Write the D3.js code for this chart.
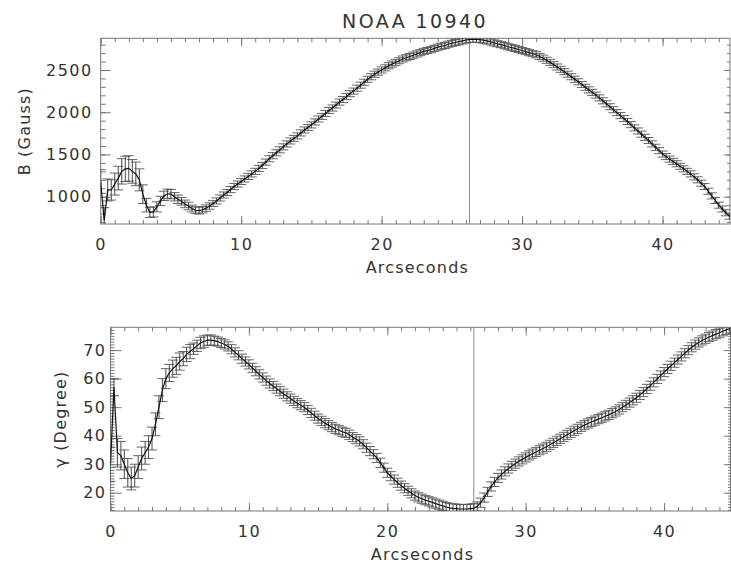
<!DOCTYPE html>
<html>
<head>
<meta charset="utf-8">
<script src="https://cdn.jsdelivr.net/npm/d3@7"></script>
<style>
  html, body { margin: 0; padding: 0; background: #fff; }
  svg { display: block; }
  text { font-family: "DejaVu Sans", sans-serif; fill: #333; }
</style>
</head>
<body>
<svg id="chart" width="731" height="567"></svg>
<script>
// ---------------- DATA ----------------
const title = "NOAA 10940";
const xLabel = "Arcseconds";
const bLabel = "B (Gauss)";
const gLabel = "\u03b3 (Degree)";
const sampleStep = 0.25;           // arcsec between samples
const markerX = 26.25;             // position of vertical marker (arcsec)
const xTicks = [0, 10, 20, 30, 40];
const bTicks = [1000, 1500, 2000, 2500];
const gTicks = [20, 30, 40, 50, 60, 70];

// Field strength B (Gauss), one value per 0.25 arcsec (20 per row = 5 arcsec)
const bValues = [
  1180, 720,1080,1080,1150,1220,1300,1330,1335,1300,1270,1200,1030, 900, 815, 820, 880, 950,1010,1035,
  1030,1000, 970, 945, 915, 890, 860, 840, 835, 845, 865, 890, 920, 950, 985,1020,1050,1085,1120,1150,
  1180,1210,1240,1270,1300,1335,1370,1410,1450,1485,1520,1555,1590,1625,1660,1690,1720,1755,1790,1820,
  1850,1885,1920,1950,1985,2020,2050,2085,2120,2150,2185,2220,2250,2285,2320,2355,2390,2420,2450,2475,
  2500,2525,2550,2570,2590,2610,2630,2645,2660,2675,2690,2705,2720,2730,2740,2755,2770,2780,2790,2805,
  2815,2825,2835,2845,2855,2862,2865,2863,2860,2853,2845,2833,2820,2810,2800,2788,2775,2765,2755,2743,
  2730,2718,2705,2693,2680,2660,2640,2615,2590,2563,2535,2508,2480,2450,2420,2390,2360,2328,2295,2265,
  2235,2203,2170,2135,2100,2065,2030,1995,1960,1925,1890,1853,1815,1778,1740,1703,1665,1625,1585,1545,
  1505,1475,1445,1418,1390,1360,1330,1300,1270,1235,1200,1160,1120,1065,1010, 955, 900, 855, 810, 770
];
const bErrors = [
  140,150,130,120,130,140,150,150,150,140,140,130,110, 80, 60, 60, 60, 55, 55, 55,
   55, 50, 50, 45, 45, 45, 40, 40, 40, 38, 38, 38, 36, 36, 36, 36, 36, 36, 36, 36,
   36, 36, 36, 36, 36, 36, 36, 36, 36, 36, 36, 36, 36, 36, 36, 36, 36, 36, 36, 36,
   36, 36, 36, 36, 36, 36, 36, 36, 36, 36, 36, 36, 36, 36, 36, 36, 36, 36, 36, 36,
   36, 36, 36, 36, 36, 36, 36, 36, 36, 36, 36, 36, 36, 36, 36, 36, 36, 36, 36, 36,
   36, 36, 36, 36, 36, 36, 36, 36, 36, 36, 36, 36, 36, 36, 36, 36, 36, 36, 36, 36,
   36, 36, 36, 36, 36, 36, 36, 36, 36, 36, 36, 36, 36, 36, 36, 36, 36, 36, 36, 36,
   36, 36, 36, 36, 36, 36, 36, 36, 36, 36, 36, 36, 36, 36, 36, 36, 36, 36, 36, 36,
   36, 36, 36, 36, 36, 36, 36, 36, 36, 36, 36, 36, 36, 36, 36, 36, 36, 36, 36, 36
];

// Inclination gamma (degree), one value per 0.25 arcsec
const gValues = [
  30, 57, 34, 33, 30, 27, 25, 26, 29, 32, 34, 36, 39, 44, 50, 56, 60, 62, 63.5, 64.5,
  66, 67, 68.5, 69.5, 70.5, 71.5, 72.5, 73, 73.5, 73.5, 73.3, 73, 72.5, 72, 71.3, 70.3, 69.2, 68.2, 67, 66,
  65, 63.8, 62.6, 61.5, 60.4, 59.3, 58.3, 57.4, 56.5, 55.6, 54.7, 53.8, 53, 52.2, 51.4, 50.7, 50, 49, 48, 47,
  46, 45.2, 44.4, 43.7, 43, 42.4, 41.9, 41.4, 41, 40.3, 39.5, 38.8, 38, 37, 35.8, 34.6, 33.5, 32.2, 30.5, 28.8,
  27, 25.8, 24.6, 23.5, 22.5, 21.6, 20.7, 19.8, 19, 18.4, 17.9, 17.4, 17, 16.6, 16.2, 15.8, 15.4, 15, 14.7, 14.5,
  14.4, 14.3, 14.3, 14.3, 14.4, 14.6, 15.2, 16.5, 18.3, 20.3, 22.2, 23.8, 25.2, 26.4, 27.5, 28.5, 29.4, 30.2, 31, 31.7,
  32.4, 33.1, 33.7, 34.3, 34.9, 35.5, 36.1, 36.8, 37.5, 38.2, 38.9, 39.6, 40.3, 41, 41.7, 42.4, 43.1, 43.7, 44.3, 44.8,
  45.3, 45.8, 46.3, 46.8, 47.3, 47.9, 48.5, 49.2, 50, 50.8, 51.6, 52.4, 53.3, 54.3, 55.3, 56.4, 57.5, 58.7, 59.9, 61.1,
  62.3, 63.4, 64.5, 65.6, 66.7, 67.8, 68.9, 70, 71, 71.9, 72.7, 73.4, 74, 74.6, 75.1, 75.6, 76.1, 76.6, 77.1, 77.6
];
const gErrors = [
  6, 3, 5, 5, 5, 5, 4, 4, 4, 4, 4, 4, 4, 4, 4, 4, 3.5, 3, 3, 3,
  3, 2.5, 2.5, 2.5, 2, 2, 2, 2, 1.8, 1.8, 1.6, 1.6, 1.6, 1.6, 1.6, 1.6, 1.6, 1.6, 1.6, 1.6,
  1.6, 1.6, 1.6, 1.6, 1.6, 1.6, 1.6, 1.6, 1.6, 1.6, 1.6, 1.6, 1.6, 1.6, 1.6, 1.6, 1.6, 1.6, 1.6, 1.6,
  1.6, 1.6, 1.6, 1.6, 1.6, 1.6, 1.6, 1.6, 1.6, 1.6, 1.6, 1.6, 1.6, 1.6, 1.6, 1.6, 1.6, 1.6, 1.6, 1.6,
  1.6, 1.6, 1.6, 1.6, 1.6, 1.6, 1.6, 1.6, 1.6, 1.6, 1.6, 1.6, 1.6, 1.6, 1.6, 1.6, 1.6, 1.6, 1.6, 1.6,
  1.6, 1.6, 1.6, 1.6, 1.6, 1.6, 1.6, 1.6, 1.6, 1.6, 1.6, 1.6, 1.6, 1.6, 1.6, 1.6, 1.6, 1.6, 1.6, 1.6,
  1.6, 1.6, 1.6, 1.6, 1.6, 1.6, 1.6, 1.6, 1.6, 1.6, 1.6, 1.6, 1.6, 1.6, 1.6, 1.6, 1.6, 1.6, 1.6, 1.6,
  1.6, 1.6, 1.6, 1.6, 1.6, 1.6, 1.6, 1.6, 1.6, 1.6, 1.6, 1.6, 1.6, 1.6, 1.6, 1.6, 1.6, 1.6, 1.6, 1.6,
  1.6, 1.6, 1.6, 1.6, 1.6, 1.6, 1.6, 1.6, 1.6, 1.6, 1.6, 1.6, 1.6, 1.6, 1.6, 1.6, 1.6, 1.6, 1.6, 1.6
];

// ---------------- DRAW ----------------
const svg = d3.select("#chart");
const axisColor = "#777";

function panel(cfg) {
  const { left, right, top, bottom, yDomain, values, errors, yTicks, yMinorStep,
          yMajorLen, yMinorLen, ylabel, ylabelX, id } = cfg;
  const x = d3.scaleLinear().domain([0, 44.8]).range([left, right]);
  const y = d3.scaleLinear().domain(yDomain).range([bottom, top]);
  const data = values.map((v, i) => ({ x: i * sampleStep, y: v, e: errors[i] }));

  const g = svg.append("g");
  svg.append("clipPath").attr("id", id)
    .append("rect").attr("x", left).attr("y", top)
    .attr("width", right - left).attr("height", bottom - top);

  const xMinor = d3.range(0, 45, 1);
  const yMinor = d3.range(Math.ceil(yDomain[0] / yMinorStep) * yMinorStep, yDomain[1], yMinorStep);

  const styleAxis = sel => {
    sel.select(".domain").remove();
    sel.selectAll(".tick line").attr("stroke", axisColor);
    sel.selectAll("text").style("font-family", "DejaVu Sans, sans-serif")
      .style("font-size", "16px").style("letter-spacing", "1.5px").attr("fill", "#333");
  };

  g.append("g").attr("transform", `translate(0,${bottom})`)
    .call(d3.axisBottom(x).tickValues(xMinor).tickSize(-4).tickFormat("")).call(styleAxis);
  g.append("g").attr("transform", `translate(0,${bottom})`)
    .call(d3.axisBottom(x).tickValues(xTicks).tickSize(-8).tickFormat(d3.format("d")))
    .call(styleAxis)
    .call(s => s.selectAll("text").attr("dy", "0.71em").attr("y", 15));
  g.append("g").attr("transform", `translate(0,${top})`)
    .call(d3.axisTop(x).tickValues(xMinor).tickSize(-4).tickFormat("")).call(styleAxis);
  g.append("g").attr("transform", `translate(0,${top})`)
    .call(d3.axisTop(x).tickValues(xTicks).tickSize(-8).tickFormat("")).call(styleAxis);

  g.append("g").attr("transform", `translate(${left},0)`)
    .call(d3.axisLeft(y).tickValues(yMinor).tickSize(-yMinorLen).tickFormat("")).call(styleAxis);
  g.append("g").attr("transform", `translate(${left},0)`)
    .call(d3.axisLeft(y).tickValues(yTicks).tickSize(-yMajorLen).tickPadding(cfg.yPad).tickFormat(d3.format("d")))
    .call(styleAxis);
  g.append("g").attr("transform", `translate(${right},0)`)
    .call(d3.axisRight(y).tickValues(yMinor).tickSize(-yMinorLen * 0.6).tickFormat("")).call(styleAxis);
  g.append("g").attr("transform", `translate(${right},0)`)
    .call(d3.axisRight(y).tickValues(yTicks).tickSize(-yMajorLen * 0.6).tickFormat("")).call(styleAxis);

  g.append("rect").attr("x", left).attr("y", top)
    .attr("width", right - left).attr("height", bottom - top)
    .attr("fill", "none").attr("stroke", axisColor).attr("stroke-width", 1);

  g.append("line").attr("x1", x(markerX)).attr("x2", x(markerX))
    .attr("y1", top).attr("y2", bottom).attr("stroke", "#888").attr("stroke-width", 1);

  const plot = g.append("g").attr("clip-path", `url(#${id})`);

  const cap = 5;
  const eb = plot.append("g").selectAll("g").data(data).join("g");
  eb.append("line").attr("x1", d => x(d.x)).attr("x2", d => x(d.x))
    .attr("y1", d => y(d.y - d.e)).attr("y2", d => y(d.y + d.e))
    .attr("stroke", "#333").attr("stroke-width", 0.9);
  eb.append("line").attr("x1", d => x(d.x) - cap).attr("x2", d => x(d.x) + cap)
    .attr("y1", d => y(d.y + d.e)).attr("y2", d => y(d.y + d.e))
    .attr("stroke", "#555").attr("stroke-width", 0.9);
  eb.append("line").attr("x1", d => x(d.x) - cap).attr("x2", d => x(d.x) + cap)
    .attr("y1", d => y(d.y - d.e)).attr("y2", d => y(d.y - d.e))
    .attr("stroke", "#555").attr("stroke-width", 0.9);

  plot.append("path").datum(data)
    .attr("d", d3.line().x(d => x(d.x)).y(d => y(d.y)))
    .attr("fill", "none").attr("stroke", "#111").attr("stroke-width", 1.2);

  svg.append("text").attr("x", (left + right) / 2 + 2).attr("y", bottom + 49)
    .attr("text-anchor", "middle").style("font-size", "16px").style("letter-spacing", "1.2px")
    .text(xLabel);
  svg.append("text")
    .attr("transform", `translate(${ylabelX},${(top + bottom) / 2}) rotate(-90)`)
    .attr("text-anchor", "middle").style("font-size", "16px").style("letter-spacing", "1.2px")
    .text(ylabel);
}

panel({ id: "clipTop", left: 100.7, right: 730, top: 38.3, bottom: 224,
  yDomain: [677, 2875], values: bValues, errors: bErrors, yTicks: bTicks,
  yMinorStep: 100, yMajorLen: 10, yMinorLen: 5, yPad: 8, ylabel: bLabel, ylabelX: 30 });

panel({ id: "clipBot", left: 110.5, right: 730.5, top: 327.3, bottom: 511,
  yDomain: [13.6, 78], values: gValues, errors: gErrors, yTicks: gTicks,
  yMinorStep: 1, yMajorLen: 11, yMinorLen: 4, yPad: 4, ylabel: gLabel, ylabelX: 66 });

svg.append("text").attr("x", 415).attr("y", 28).attr("text-anchor", "middle")
  .style("font-size", "19px").style("letter-spacing", "2.4px").text(title);
</script>
</body>
</html>
